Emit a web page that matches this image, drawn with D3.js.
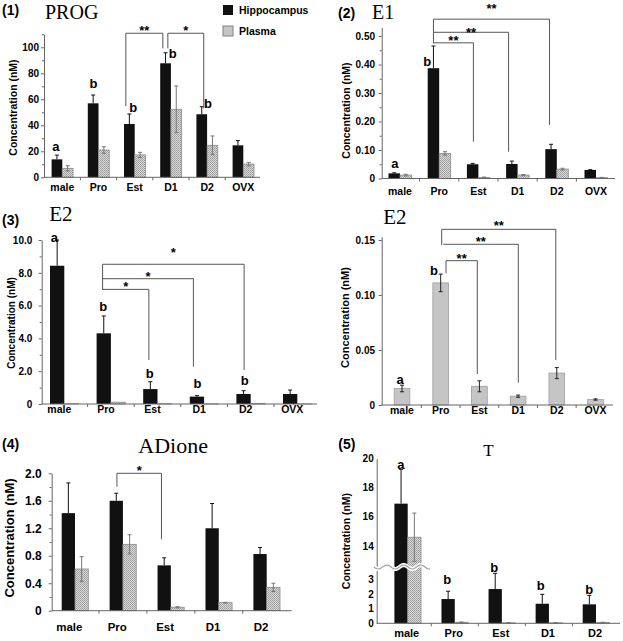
<!DOCTYPE html>
<html>
<head>
<meta charset="utf-8">
<script src="https://cdn.jsdelivr.net/npm/d3@7"></script>
<style>
body { margin: 0; background: #fff; }
text { font-family: "Liberation Sans", Arial, sans-serif; fill: #000; }
</style>
</head>
<body>
<svg id="chart" width="623" height="641"></svg>
<script>
const CATS6 = ["male", "Pro", "Est", "D1", "D2", "OVX"];
const CATS5 = ["male", "Pro", "Est", "D1", "D2"];

// (1) PROG
const progHippo = [13.8, 56.9, 41, 87.7, 48.5, 24.6];
const progHippoErr = [3.3, 6.4, 7.7, 8.1, 5.8, 3.6];
const progPlasma = [6.9, 21, 17.2, 52.3, 24.6, 10.2];
const progPlasmaErr = [2, 2.5, 2, 18, 7.2, 1.3];
const progTicks = [0, 20, 40, 60, 80, 100];
const progMinor = [10, 30, 50, 70, 90, 110];

// (2) E1
const e1Hippo = [0.018, 0.387, 0.050, 0.051, 0.103, 0.030];
const e1HippoErr = [0.002, 0.078, 0.003, 0.010, 0.017, 0.001];
const e1Plasma = [0.012, 0.088, 0.004, 0.012, 0.033, 0.003];
const e1PlasmaErr = [0.003, 0.006, 0.001, 0.002, 0.003, 0.001];
const e1Ticks = [0, 0.1, 0.2, 0.3, 0.4, 0.5];
const e1Minor = [0.05, 0.15, 0.25, 0.35, 0.45];

// (3) E2, hippocampus and plasma
const e2Hippo = [8.43, 4.31, 0.91, 0.45, 0.61, 0.61];
const e2HippoErr = [1.57, 1.06, 0.45, 0.06, 0.2, 0.24];
const e2Plasma = [0.015, 0.111, 0.017, 0.008, 0.029, 0.005];
const e2PlasmaErr = [0.003, 0.008, 0.005, 0.001, 0.005, 0.0006];
const e2Ticks = [0, 2, 4, 6, 8, 10];
const e2Minor = [1, 3, 5, 7, 9];
const e2PlasmaTicks = [0, 0.05, 0.10, 0.15];

// (4) ADione
const adioneHippo = [1.42, 1.6, 0.66, 1.2, 0.825];
const adioneHippoErr = [0.44, 0.11, 0.11, 0.36, 0.095];
const adionePlasma = [0.607, 0.966, 0.05, 0.117, 0.34];
const adionePlasmaErr = [0.18, 0.14, 0.008, 0.005, 0.06];
const adioneTicks = [0, 0.4, 0.8, 1.2, 1.6, 2.0];
const adioneMinor = [0.2, 0.6, 1.0, 1.4, 1.8];

// (5) T
const tHippo = [16.9, 1.65, 2.33, 1.33, 1.29];
const tHippoErr = [2.35, 0.53, 1.07, 0.64, 0.61];
const tPlasma = [14.6, 0.07, 0.03, 0.03, 0.05];
const tPlasmaErr = [1.65, 0.02, 0.01, 0.01, 0.02];
const tTicks = [0, 1, 2, 3, 14, 16, 18, 20];

var svg = d3.select("#chart");
svg.append("rect").attr("width", 623).attr("height", 641).attr("fill", "#fff");

var defs = svg.append("defs");
var pat = defs.append("pattern").attr("id", "dots")
    .attr("width", 2).attr("height", 2).attr("patternUnits", "userSpaceOnUse");
pat.append("rect").attr("width", 2).attr("height", 2).attr("fill", "#dadada");
pat.append("rect").attr("width", 1).attr("height", 1).attr("fill", "#9a9a9a");
pat.append("rect").attr("x", 1).attr("y", 1).attr("width", 1).attr("height", 1).attr("fill", "#a6a6a6");

var STYLE = {
    "hippo" : {fill: "#111", stroke: "none", err: "up", errColor: "#111"},
    "plasma" : {fill: "url(#dots)", stroke: "#8a8a8a", err: "both", errColor: "#777"},
    "plasmaSolid" : {fill: "#c5c5c5", stroke: "#9e9e9e", err: "both", errColor: "#222"}
};

var AXIS_COLOR = "#666";

function fixed(n) {
    return function (d) { return d === 0 ? "0" : d.toFixed(n); };
}

var panels = [
    {   // (1) PROG
        cats: CATS6, centers: [62.3, 243.3], barWidth: 10.7,
        y: d3.scaleLinear().domain([0, 110]).range([177.3, 34.3]),
        axisX: 44, xEnd: 260,
        ticks: progTicks, minor: progMinor, fmt: d3.format("d"),
        tickFont: 10, tickSize: 3, tickPad: 2,
        labelDy: 13.2, labelFont: 10.5, labelShift: 0,
        ylabel: {x: 12.5, y: 107.5, size: 10.5},
        series: [
            {values: progHippo, err: progHippoErr, style: "hippo"},
            {values: progPlasma, err: progPlasmaErr, style: "plasma"}
        ],
        letters: [
            {i: 0, t: "a", v: 23.5, dx: -1},
            {i: 1, t: "b", v: 71.8, dx: 0.3},
            {i: 2, t: "b", v: 53.8, dx: 3.8},
            {i: 3, t: "b", v: 95.4, dx: 7.3},
            {i: 4, t: "b", v: 56.4, dx: 6.3}
        ],
        brackets: [
            {from: 2, to: 3, dxFrom: -3.5, dxTo: -2.7, top: 110.8, fromEnd: 54.8, toEnd: 99.2, text: "**", ty: 114.8},
            {from: 3, to: 4, dxFrom: 2.3, dxTo: 2, top: 110.8, fromEnd: 99.2, toEnd: 53, text: "*", ty: 114.8}
        ]
    },
    {   // (2) E1
        cats: CATS6, centers: [400, 596], barWidth: 11.5,
        y: d3.scaleLinear().domain([0, 0.53]).range([178.5, 27.45]),
        axisX: 381.7, xEnd: 615,
        ticks: e1Ticks, minor: e1Minor, fmt: fixed(2),
        tickFont: 10, tickSize: 3, tickPad: 3.7,
        labelDy: 16, labelFont: 10.5, labelShift: 0,
        ylabel: {x: 346, y: 110.5, size: 10.5},
        series: [
            {values: e1Hippo, err: e1HippoErr, style: "hippo"},
            {values: e1Plasma, err: e1PlasmaErr, style: "plasma"}
        ],
        letters: [
            {i: 0, t: "a", v: 0.054, dx: 0.7},
            {i: 1, t: "b", v: 0.409, dx: -6.2}
        ],
        brackets: [
            {from: 1, to: 4, dxFrom: 0, dxTo: -1.5, top: 0.559, fromEnd: 0.474, toEnd: 0.188, text: "**", ty: 0.604},
            {from: 1, to: 3, dxFrom: 0, dxTo: -3.25, top: 0.513, fromEnd: 0.513, toEnd: 0.094, text: "**", ty: 0.521},
            {from: 1, to: 2, dxFrom: 0, dxTo: 0.75, top: 0.476, fromEnd: 0.476, toEnd: 0.129, text: "**", ty: 0.492}
        ]
    },
    {   // (3) E2 hippocampus
        cats: CATS6, centers: [64.3, 297.3], barWidth: 14.3,
        y: d3.scaleLinear().domain([0, 10]).range([404, 240]),
        axisX: 41.7, xEnd: 317,
        ticks: e2Ticks, minor: e2Minor, fmt: fixed(1),
        tickFont: 10, tickSize: 3, tickPad: 6.4,
        labelDy: 9.2, labelFont: 10.5, labelShift: -5,
        ylabel: {x: 11, y: 323, size: 10},
        series: [
            {values: e2Hippo, err: e2HippoErr, style: "hippo"},
            {values: e2Plasma, err: null, style: "plasma"}
        ],
        letters: [
            {i: 0, t: "a", v: 10.16, dx: -2.85},
            {i: 1, t: "b", v: 5.93, dx: -0.55},
            {i: 2, t: "b", v: 1.83, dx: -0.5},
            {i: 3, t: "b", v: 1.26, dx: 0.45},
            {i: 4, t: "b", v: 1.46, dx: 1.15}
        ],
        brackets: [
            {from: 1, to: 4, dxFrom: -1.15, dxTo: 0.55, top: 8.52, fromEnd: 6.95, toEnd: 2.07, text: "*", ty: 9.39},
            {from: 1, to: 3, dxFrom: -1.15, dxTo: -3.55, top: 7.64, fromEnd: 7.64, toEnd: 2.27, text: "*", ty: 7.93},
            {from: 1, to: 2, dxFrom: -1.15, dxTo: -1.5, top: 6.99, fromEnd: 6.99, toEnd: 2.68, text: "*", ty: 7.32}
        ]
    },
    {   // (3) E2 plasma
        cats: CATS6, centers: [402, 595.5], barWidth: 15.7,
        y: d3.scaleLinear().domain([0, 0.153]).range([405, 236.7]),
        axisX: 381.7, xEnd: 613,
        ticks: e2PlasmaTicks, minor: [], fmt: fixed(2),
        tickFont: 10, tickSize: 3, tickPad: 3.7,
        labelDy: 8.5, labelFont: 10.5, labelShift: 0,
        ylabel: {x: 345, y: 317.5, size: 11},
        series: [
            {values: e2Plasma, err: e2PlasmaErr, style: "plasmaSolid"}
        ],
        letters: [
            {i: 0, t: "a", v: 0.0234, dx: -2},
            {i: 1, t: "b", v: 0.122, dx: -6.7}
        ],
        brackets: [
            {from: 1, to: 4, dxFrom: 1, dxTo: -1, top: 0.1597, fromEnd: 0.1455, toEnd: 0.0409, text: "**", ty: 0.1657},
            {from: 1, to: 3, dxFrom: 2.6, dxTo: 0.2, top: 0.1461, fromEnd: 0.1461, toEnd: 0.0203, text: "**", ty: 0.1506},
            {from: 1, to: 2, dxFrom: 5.3, dxTo: -2.1, top: 0.1312, fromEnd: 0.1197, toEnd: 0.0282, text: "**", ty: 0.1355}
        ]
    },
    {   // (4) ADione
        cats: CATS5, centers: [75, 266.7], barWidth: 13.3,
        y: d3.scaleLinear().domain([0, 2]).range([610.7, 473.3]),
        axisX: 51.7, xEnd: 291.7,
        ticks: adioneTicks, minor: adioneMinor, fmt: fixed(1),
        tickFont: 12, tickSize: 3, tickPad: 7,
        labelDy: 20.3, labelFont: 11.5, labelShift: -5.7,
        ylabel: {x: 9.5, y: 538, size: 13},
        series: [
            {values: adioneHippo, err: adioneHippoErr, style: "hippo"},
            {values: adionePlasma, err: adionePlasmaErr, style: "plasma"}
        ],
        letters: [],
        brackets: [
            {from: 1, to: 2, dxFrom: 0.65, dxTo: -2.75, top: 2.0, fromEnd: 1.805, toEnd: 1.04, text: "*", ty: 2.073}
        ]
    },
    {   // (5) T, broken axis
        cats: CATS5, centers: [407.7, 596], barWidth: 13.3,
        y: d3.scaleLinear().domain([0, 3.83, 12.56, 20]).range([623.3, 567, 567, 458.4]),
        axisX: 376.7, xEnd: 620,
        ticks: tTicks, minor: [], fmt: d3.format("d"),
        tickFont: 10, tickSize: 0, tickPad: 3,
        labelDy: 14, labelFont: 11, labelShift: -1,
        ylabel: {x: 346, y: 541, size: 10.5},
        series: [
            {values: tHippo, err: tHippoErr, style: "hippo"},
            {values: tPlasma, err: tPlasmaErr, style: "plasma"}
        ],
        letters: [
            {i: 0, t: "a", v: 19.6, dx: -0.3},
            {i: 1, t: "b", v: 2.95, dx: -1},
            {i: 2, t: "b", v: 3.83, dx: -0.9},
            {i: 3, t: "b", v: 2.54, dx: -1.65},
            {i: 4, t: "b", v: 2.27, dx: 0}
        ],
        brackets: [],
        brk: {y: 567, x0: 374, x1: 430}
    }
];

function drawPanel(p) {
    var g = svg.append("g");
    var x = d3.scalePoint().domain(p.cats).range(p.centers);
    var y = p.y;
    var bw = p.barWidth;
    var y0 = y(0);
    var n = p.series.length;

    // centre of the first (or only) bar of a category
    function firstCenter(i) {
        return x(p.cats[i]) - n * bw / 2 + bw / 2;
    }

    p.series.forEach(function (s, k) {
        var st = STYLE[s.style];
        var off = -n * bw / 2 + k * bw;

        g.append("g").selectAll("rect")
            .data(s.values)
            .enter().append("rect")
            .attr("x", function (d, i) { return x(p.cats[i]) + off; })
            .attr("y", function (d) { return y(d); })
            .attr("width", bw)
            .attr("height", function (d) { return y0 - y(d); })
            .attr("fill", st.fill)
            .attr("stroke", st.stroke)
            .attr("stroke-width", 0.8);

        if (!s.err) return;

        var eg = g.append("g").attr("stroke", st.errColor).attr("stroke-width", 1);
        s.values.forEach(function (v, i) {
            var xc = x(p.cats[i]) + off + bw / 2;
            var hi = y(v + s.err[i]);
            var lo = st.err == "up" ? y(v) : y(Math.max(0, v - s.err[i]));
            eg.append("line").attr("x1", xc).attr("x2", xc).attr("y1", lo).attr("y2", hi);
            eg.append("line").attr("x1", xc - 2).attr("x2", xc + 2).attr("y1", hi).attr("y2", hi);
            if (st.err == "both") {
                eg.append("line").attr("x1", xc - 2).attr("x2", xc + 2).attr("y1", lo).attr("y2", lo);
            }
        });
    });

    // y axis
    var ya = g.append("g")
        .attr("transform", "translate(" + p.axisX + ",0)")
        .call(d3.axisLeft(y).tickValues(p.ticks).tickFormat(p.fmt)
            .tickSize(p.tickSize).tickSizeOuter(0).tickPadding(p.tickPad));
    ya.selectAll("path, line").attr("stroke", AXIS_COLOR);
    ya.selectAll("text")
        .attr("font-family", "Liberation Sans, Arial, sans-serif")
        .attr("font-size", p.tickFont).attr("font-weight", "bold").attr("fill", "#000");

    if (p.minor.length) {
        var ym = g.append("g")
            .attr("transform", "translate(" + p.axisX + ",0)")
            .call(d3.axisLeft(y).tickValues(p.minor).tickFormat("").tickSize(2).tickSizeOuter(0));
        ym.select(".domain").remove();
        ym.selectAll("line").attr("stroke", AXIS_COLOR);
    }

    // x axis
    g.append("line")
        .attr("x1", p.axisX).attr("x2", p.xEnd).attr("y1", y0).attr("y2", y0)
        .attr("stroke", AXIS_COLOR).attr("stroke-width", 1);

    var mids = p.cats.slice(1).map(function (c, i) {
        return (x(p.cats[i]) + x(c)) / 2;
    });
    g.append("g").selectAll("line")
        .data(mids)
        .enter().append("line")
        .attr("x1", function (d) { return d; }).attr("x2", function (d) { return d; })
        .attr("y1", y0).attr("y2", y0 + 3)
        .attr("stroke", AXIS_COLOR);

    g.append("g").selectAll("text")
        .data(p.cats)
        .enter().append("text")
        .attr("x", function (d) { return x(d) + p.labelShift; })
        .attr("y", y0 + p.labelDy)
        .attr("text-anchor", "middle")
        .attr("font-size", p.labelFont)
        .attr("font-weight", "bold")
        .text(function (d) { return d; });

    g.append("text")
        .attr("transform", "translate(" + p.ylabel.x + "," + p.ylabel.y + ") rotate(-90)")
        .attr("text-anchor", "middle")
        .attr("dominant-baseline", "central")
        .attr("font-size", p.ylabel.size)
        .attr("font-weight", "bold")
        .text("Concentration (nM)");

    // significance letters
    g.append("g").selectAll("text")
        .data(p.letters)
        .enter().append("text")
        .attr("x", function (d) { return firstCenter(d.i) + d.dx; })
        .attr("y", function (d) { return y(d.v) + 4.5; })
        .attr("text-anchor", "middle")
        .attr("font-size", 13)
        .attr("font-weight", "bold")
        .text(function (d) { return d.t; });

    // brackets
    var bg = g.append("g");
    p.brackets.forEach(function (b) {
        var xa = firstCenter(b.from) + b.dxFrom;
        var xb = firstCenter(b.to) + b.dxTo;
        bg.append("path")
            .attr("d", "M" + xa + "," + y(b.fromEnd) + "V" + y(b.top) + "H" + xb + "V" + y(b.toEnd))
            .attr("fill", "none")
            .attr("stroke", "#555")
            .attr("stroke-width", 1);
        bg.append("text")
            .attr("x", (xa + xb) / 2)
            .attr("y", y(b.ty) + 7)
            .attr("text-anchor", "middle")
            .attr("font-size", 13)
            .attr("font-weight", "bold")
            .text(b.text);
    });

    // axis break marker
    if (p.brk) {
        var pts = d3.range(p.brk.x0, p.brk.x1 + 1, 1).map(function (px) {
            return [px, p.brk.y + 2 * Math.sin((px - p.brk.x0) / 17 * 2 * Math.PI)];
        });
        var wave = d3.line();
        g.append("path").attr("d", wave(pts))
            .attr("fill", "none").attr("stroke", "#fff").attr("stroke-width", 4);
        g.append("path").attr("d", wave(pts))
            .attr("fill", "none").attr("stroke", "#a0a0a0").attr("stroke-width", 1.2);
    }
}

panels.forEach(drawPanel);

// panel titles
var titles = [
    {t: "(1)", x: 2, y: 15, size: 14, serif: false},
    {t: "PROG", x: 45, y: 19, size: 20, serif: true},
    {t: "(2)", x: 338, y: 17.5, size: 14, serif: false},
    {t: "E1", x: 372, y: 19, size: 20, serif: true},
    {t: "(3)", x: 2, y: 225.4, size: 14, serif: false},
    {t: "E2", x: 49.3, y: 220.7, size: 21, serif: true},
    {t: "E2", x: 383.3, y: 224, size: 21, serif: true},
    {t: "(4)", x: 2, y: 448.8, size: 14, serif: false},
    {t: "ADione", x: 138.3, y: 453.3, size: 22, serif: true},
    {t: "(5)", x: 338.3, y: 448.8, size: 14, serif: false},
    {t: "T", x: 483.3, y: 456, size: 17, serif: true}
];

svg.append("g").selectAll("text")
    .data(titles)
    .enter().append("text")
    .attr("x", function (d) { return d.x; })
    .attr("y", function (d) { return d.y; })
    .attr("font-size", function (d) { return d.size; })
    .attr("font-weight", function (d) { return d.serif ? "normal" : "bold"; })
    .style("font-family", function (d) {
        return d.serif ? "'Liberation Serif', 'Times New Roman', serif" : "'Liberation Sans', Arial, sans-serif";
    })
    .text(function (d) { return d.t; });

// legend
var legend = svg.append("g");
legend.append("rect").attr("x", 223).attr("y", 5).attr("width", 10).attr("height", 10)
    .attr("fill", "#111");
legend.append("text").attr("x", 239).attr("y", 14)
    .attr("font-size", 10.5).attr("font-weight", "bold").text("Hippocampus");
legend.append("rect").attr("x", 223).attr("y", 26).attr("width", 10).attr("height", 10)
    .attr("fill", "#c6c6c6").attr("stroke", "#808080").attr("stroke-width", 1);
legend.append("text").attr("x", 239).attr("y", 35)
    .attr("font-size", 10.5).attr("font-weight", "bold").text("Plasma");
</script>
</body>
</html>
